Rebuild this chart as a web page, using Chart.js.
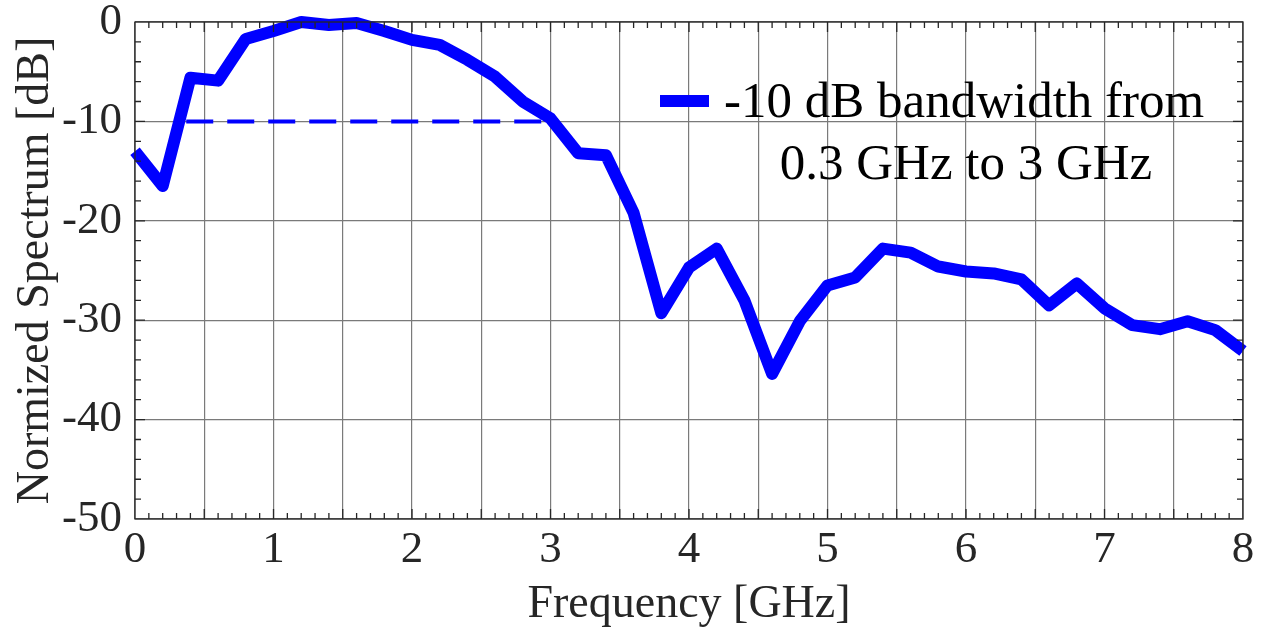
<!DOCTYPE html>
<html>
<head>
<meta charset="utf-8">
<script src="https://cdn.jsdelivr.net/npm/chart.js@4.4.1/dist/chart.umd.min.js"></script>
<style>
  html, body { margin: 0; padding: 0; background: #fff; }
  #wrap { width: 1266px; height: 637px; }
</style>
</head>
<body>
<div id="wrap"><canvas id="specChart"></canvas></div>
<script>
// Data Setup
const freqGHz = [0, 0.2, 0.4, 0.6, 0.8, 1.0, 1.2, 1.4, 1.6, 1.8,
	2.0, 2.2, 2.4, 2.6, 2.8, 3.0, 3.2, 3.4, 3.6, 3.8,
	4.0, 4.2, 4.4, 4.6, 4.8, 5.0, 5.2, 5.4, 5.6, 5.8,
	6.0, 6.2, 6.4, 6.6, 6.8, 7.0, 7.2, 7.4, 7.6, 7.8, 8.0];
const spectrumDb = [-13.0, -16.5, -5.6, -5.9, -1.7, -0.9, 0.0, -0.3, -0.1, -0.9,
	-1.8, -2.3, -3.8, -5.5, -8.0, -9.7, -13.2, -13.4, -19.2, -29.3,
	-24.7, -22.8, -28.0, -35.4, -30.1, -26.5, -25.7, -22.8, -23.2, -24.6,
	-25.1, -25.3, -25.9, -28.5, -26.3, -28.8, -30.5, -30.9, -30.1, -31.0, -33.1];
// -10 dB marker line
const bandX = [0.37, 2.95];
const bandY = [-10, -10];
const legendLines = ['-10 dB bandwidth from', '0.3 GHz to 3 GHz'];
const xTicks = [0, 1, 2, 3, 4, 5, 6, 7, 8];
const yTicks = [-50, -40, -30, -20, -10, 0];

const FONT = "'Liberation Serif', 'Times New Roman', serif";
const TXT = '#262626';
const BLUE = '#0000ff';

// box, inward minor ticks and legend
const framePlugin = {
	id: 'frame',
	afterDraw(chart) {
		const { ctx, chartArea: a, scales } = chart;
		ctx.save();
		ctx.strokeStyle = TXT;
		ctx.lineWidth = 1.3;
		ctx.strokeRect(a.left, a.top, a.right - a.left, a.bottom - a.top);
		ctx.beginPath();
		for (let i = 1; i < 80; i++) {
			const px = scales.x.getPixelForValue(i / 10);
			const len = (i % 5 === 0) ? 10 : 6;
			ctx.moveTo(px, a.bottom); ctx.lineTo(px, a.bottom - len);
			ctx.moveTo(px, a.top); ctx.lineTo(px, a.top + len);
		}
		for (let v = -48; v < 0; v += 2) {
			const py = scales.y.getPixelForValue(v);
			const len = (v % 10 === 0) ? 10 : 6;
			ctx.moveTo(a.left, py); ctx.lineTo(a.left + len, py);
			ctx.moveTo(a.right, py); ctx.lineTo(a.right - len, py);
		}
		ctx.stroke();

		// legend
		ctx.strokeStyle = BLUE;
		ctx.lineWidth = 12;
		ctx.beginPath();
		ctx.moveTo(660, 101); ctx.lineTo(709, 101);
		ctx.stroke();
		ctx.fillStyle = '#000';
		ctx.font = '51px ' + FONT;
		ctx.textBaseline = 'alphabetic';
		ctx.textAlign = 'left';
		ctx.fillText(legendLines[0], 724, 117);
		ctx.textAlign = 'center';
		ctx.fillText(legendLines[1], 966, 179);
		ctx.restore();
	}
};

const ctx = document.getElementById('specChart').getContext('2d');
const specChart = new Chart(ctx, {
	type: 'line',
	data: {
		datasets: [{
			label: 'Spectrum',
			data: freqGHz.map((f, i) => ({ x: f, y: spectrumDb[i] })),
			borderColor: BLUE,
			borderWidth: 12,
			borderJoinStyle: 'round',
			pointRadius: 0,
			tension: 0,
			clip: 10
		}, {
			label: 'Bandwidth',
			data: bandX.map((f, i) => ({ x: f, y: bandY[i] })),
			borderColor: BLUE,
			borderWidth: 4,
			borderDash: [27, 14],
			pointRadius: 0
		}]
	},
	options: {
		responsive: true,
		maintainAspectRatio: false,
		animation: false,
		layout: { padding: { top: 22, right: 23, left: 0, bottom: 0 } },
		plugins: {
			legend: { display: false },
			tooltip: { enabled: false }
		},
		scales: {
			x: {
				type: 'linear',
				min: 0,
				max: 8,
				afterFit: s => { s.height = 118; s.paddingLeft = 0; s.paddingRight = 0; },
				ticks: {
					stepSize: 0.5,
					autoSkip: false,
					maxRotation: 0,
					padding: 4,
					color: TXT,
					font: { family: FONT, size: 45 },
					callback: v => (xTicks.includes(v) ? String(v) : '')
				},
				grid: { color: '#7a7a7a', lineWidth: 1.2, drawTicks: false },
				border: { display: false },
				title: {
					display: true,
					text: 'Frequency [GHz]',
					color: TXT,
					font: { family: FONT, size: 46 },
					padding: { top: 0, bottom: 4 }
				}
			},
			y: {
				min: -50,
				max: 0,
				afterFit: s => { s.width = 135; s.paddingTop = 0; s.paddingBottom = 0; },
				ticks: {
					stepSize: 10,
					padding: 13,
					color: TXT,
					font: { family: FONT, size: 45 },
					callback: v => (yTicks.includes(v) ? String(v) : '')
				},
				grid: { color: '#7a7a7a', lineWidth: 1.2, drawTicks: false },
				border: { display: false },
				title: {
					display: true,
					text: 'Normized Spectrum [dB]',
					color: TXT,
					font: { family: FONT, size: 46 },
					padding: { top: 8, bottom: 0 }
				}
			}
		}
	},
	plugins: [framePlugin]
});
</script>
</body>
</html>
